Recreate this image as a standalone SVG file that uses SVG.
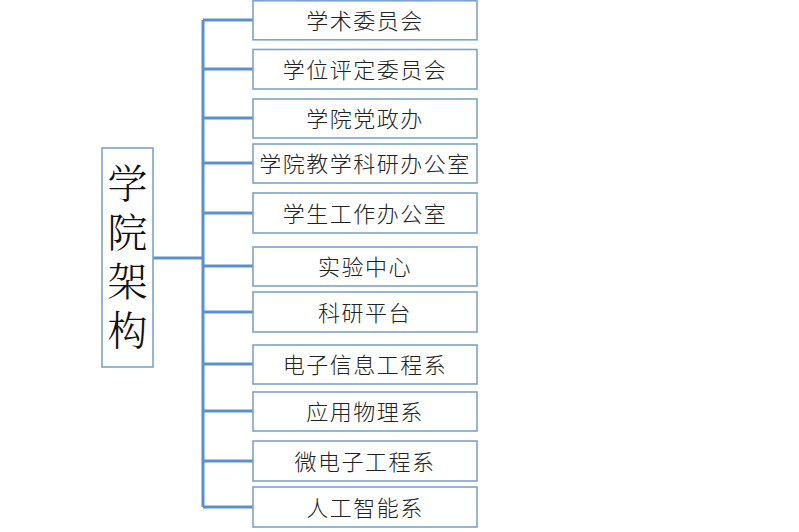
<svg xmlns="http://www.w3.org/2000/svg" width="799" height="532" viewBox="0 0 799 532">
<style>
.box{fill:#fff;stroke:#7ba4cf;stroke-width:1.6}
.lbl{font-family:"Noto Sans CJK SC","Noto Sans CJK JP",sans-serif;font-size:22px;fill:#222;text-anchor:middle;dominant-baseline:central;letter-spacing:1.5px;font-weight:300}
.big{font-family:"Noto Serif CJK SC","Noto Sans CJK SC",serif;font-size:40px;fill:#111;writing-mode:vertical-rl;letter-spacing:9px;font-weight:300}
.con{fill:none;stroke:#5b8fcf;stroke-width:3}
</style>
<rect width="799" height="532" fill="#fff"/>
<g id="connectors">
<path class="con" d="M153 258H203M203 20V507"/>
<path class="con" d="M203 20H253M203 69H253M203 118H253M203 163H253M203 213H253M203 266H253M203 312H253M203 364H253M203 411H253M203 461H253M203 507H253"/>
</g>
<g id="root">
<rect class="box" x="102" y="148" width="51" height="219"/>
<text class="big" x="127.5" y="163">学院架构</text>
</g>
<g id="n1"><rect class="box" x="253" y="0.8" width="224" height="39"/><text class="lbl" x="365" y="18.5">学术委员会</text></g>
<g id="n2"><rect class="box" x="253" y="49.5" width="224" height="39.5"/><text class="lbl" x="365" y="67.5">学位评定委员会</text></g>
<g id="n3"><rect class="box" x="253" y="99" width="224" height="39"/><text class="lbl" x="365" y="116.5">学院党政办</text></g>
<g id="n4"><rect class="box" x="253" y="144" width="224" height="39"/><text class="lbl" x="365" y="161.5">学院教学科研办公室</text></g>
<g id="n5"><rect class="box" x="253" y="193" width="224" height="40"/><text class="lbl" x="365" y="211.5">学生工作办公室</text></g>
<g id="n6"><rect class="box" x="253" y="247" width="224" height="39"/><text class="lbl" x="365" y="264.5">实验中心</text></g>
<g id="n7"><rect class="box" x="253" y="292" width="224" height="40"/><text class="lbl" x="365" y="310.5">科研平台</text></g>
<g id="n8"><rect class="box" x="253" y="345" width="224" height="39"/><text class="lbl" x="365" y="362.5">电子信息工程系</text></g>
<g id="n9"><rect class="box" x="253" y="392" width="224" height="39"/><text class="lbl" x="365" y="409.5">应用物理系</text></g>
<g id="n10"><rect class="box" x="253" y="441" width="224" height="40"/><text class="lbl" x="365" y="459.5">微电子工程系</text></g>
<g id="n11"><rect class="box" x="253" y="487" width="224" height="40"/><text class="lbl" x="365" y="505.5">人工智能系</text></g>
</svg>
